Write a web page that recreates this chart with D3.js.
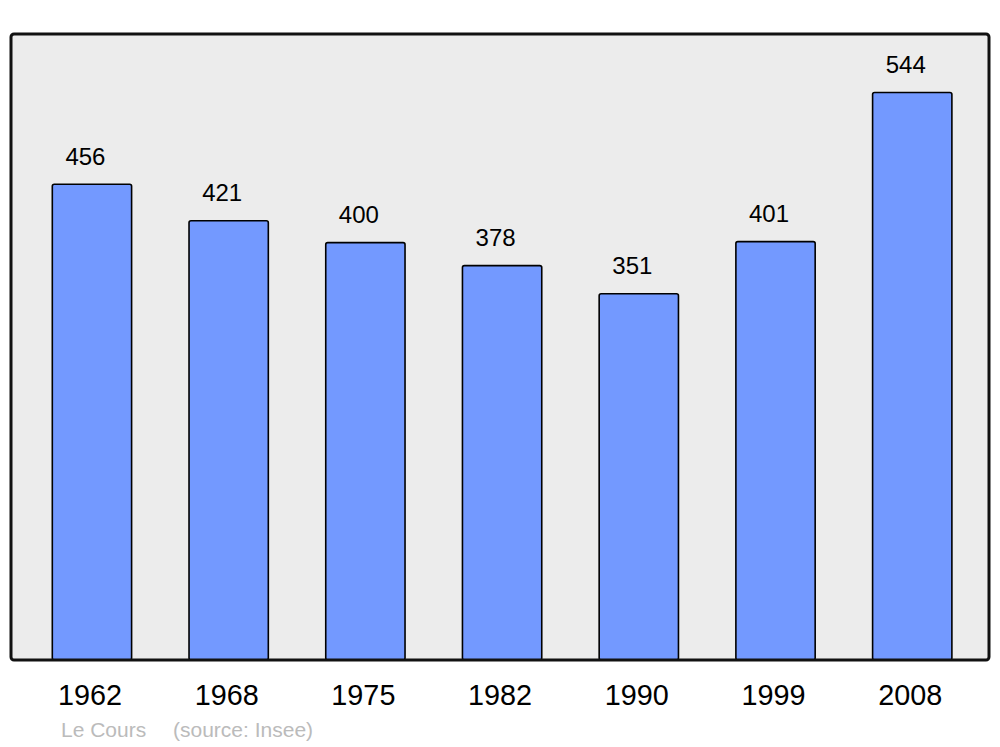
<!DOCTYPE html>
<html><head><meta charset="utf-8">
<script src="https://cdn.jsdelivr.net/npm/d3@7"></script>
<style>html,body{margin:0;padding:0;background:#fff;}svg{display:block;font-family:"Liberation Sans",Arial,sans-serif;}</style>
</head><body>
<script>
const years = ["1962","1968","1975","1982","1990","1999","2008"];
const population = [456,421,400,378,351,401,544];
const footerTitle = "Le Cours";
const footerSource = "(source: Insee)";

const W=1000,H=747;
const svg=d3.select("body").append("svg").attr("width",W).attr("height",H);
const panel={x0:11,x1:989,y0:34,y1:660};
const x=d3.scaleBand().domain(years).range([23.6,980.6]).paddingInner(0.42).paddingOuter(0.21);
const y=d3.scaleLinear().domain([0,600]).range([panel.y1,panel.y0]);

svg.append("rect").attr("x",panel.x0).attr("y",panel.y0).attr("width",panel.x1-panel.x0).attr("height",panel.y1-panel.y0)
  .attr("rx",3).attr("fill","#ececec").attr("stroke","none");

const data=years.map((yr,i)=>({yr,v:population[i]}));
svg.selectAll("rect.bar").data(data).join("rect").attr("class","bar")
  .attr("x",d=>x(d.yr)).attr("y",d=>y(d.v)).attr("width",x.bandwidth()).attr("height",d=>y(0)-y(d.v))
  .attr("rx",2).attr("fill","#7399ff").attr("stroke","#000").attr("stroke-width",1.6);

svg.selectAll("text.val").data(data).join("text").attr("class","val")
  .attr("x",d=>x(d.yr)+x.bandwidth()/2-6.5).attr("y",d=>y(d.v)-19.5)
  .attr("text-anchor","middle").attr("font-size",24).attr("fill","#000").text(d=>d.v);

svg.append("rect").attr("x",panel.x0).attr("y",panel.y0).attr("width",panel.x1-panel.x0).attr("height",panel.y1-panel.y0)
  .attr("rx",3).attr("fill","none").attr("stroke","#111").attr("stroke-width",3);

svg.selectAll("text.yr").data(years).join("text").attr("class","yr")
  .attr("x",d=>x(d)+x.bandwidth()/2-2).attr("y",705)
  .attr("text-anchor","middle").attr("font-size",28.8).attr("fill","#000").text(d=>d);

svg.append("text").attr("x",61).attr("y",737).attr("font-size",21).attr("fill","#bbbbbb").text(footerTitle);
svg.append("text").attr("x",173).attr("y",737).attr("font-size",21).attr("fill","#bbbbbb").text(footerSource);
</script>
</body></html>
